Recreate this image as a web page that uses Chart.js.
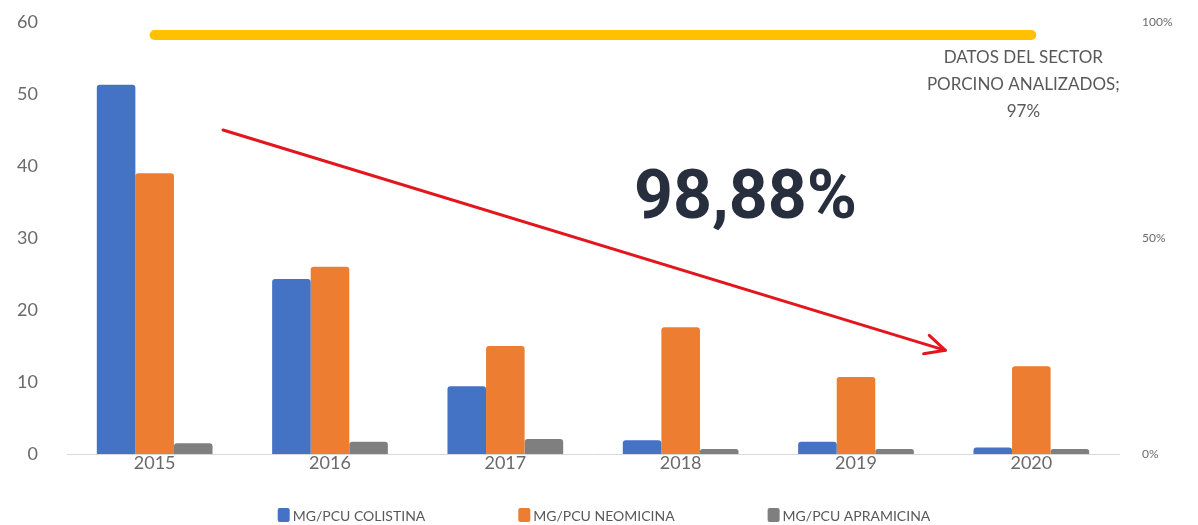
<!DOCTYPE html>
<html>
<head>
<meta charset="utf-8">
<title>Consumo de antibióticos - sector porcino</title>
<script src="https://cdn.jsdelivr.net/npm/chart.js@4/dist/chart.umd.min.js"></script>
<style>
  html, body { margin: 0; padding: 0; background: #fff; }
  #wrap { width: 1198px; height: 525px; }
</style>
</head>
<body>
<div id="wrap"><canvas id="chartUso"></canvas></div>
<script>
const years = ['2015', '2016', '2017', '2018', '2019', '2020'];
const colistina = [51.3, 24.3, 9.4, 1.9, 1.7, 0.9];
const neomicina = [39.0, 26.0, 15.0, 17.6, 10.7, 12.2];
const apramicina = [1.5, 1.7, 2.1, 0.7, 0.7, 0.7];
const sectorAnalizado = [0.97, 0.97, 0.97, 0.97, 0.97, 0.97];
const seriesNames = ['MG/PCU COLISTINA', 'MG/PCU NEOMICINA', 'MG/PCU APRAMICINA'];
const sectorLabel = ['DATOS DEL SECTOR', 'PORCINO ANALIZADOS;'];
const reduccion = '98,88%';
const leftTicks = [0, 10, 20, 30, 40, 50, 60];
const rightTicks = [0, 0.5, 1];

const tickColor = '#6a6a6a';
const fontFamily = 'Lato, "Open Sans", sans-serif';

// flecha, porcentaje grande, etiqueta de la línea y leyenda
const anotaciones = {
    id: 'anotaciones',
    afterDatasetsDraw(chart) {
        const { ctx, scales: { x, y } } = chart;
        const step = x.getPixelForValue(1) - x.getPixelForValue(0);
        const px = i => x.getPixelForValue(0) + i * step;

        ctx.save();

        // flecha roja de tendencia
        const x1 = px(0.39), y1 = y.getPixelForValue(45);
        const x2 = px(4.51), y2 = y.getPixelForValue(14.4);
        ctx.strokeStyle = '#e3161e';
        ctx.lineWidth = 3;
        ctx.lineCap = 'round';
        ctx.lineJoin = 'round';
        ctx.beginPath();
        ctx.moveTo(x1, y1);
        ctx.lineTo(x2, y2);
        ctx.stroke();
        const ang = Math.atan2(y2 - y1, x2 - x1);
        const head = 22;
        ctx.beginPath();
        ctx.moveTo(x2 - head * Math.cos(ang - 0.45), y2 - head * Math.sin(ang - 0.45));
        ctx.lineTo(x2, y2);
        ctx.lineTo(x2 - head * Math.cos(ang + 0.45), y2 - head * Math.sin(ang + 0.45));
        ctx.stroke();

        // porcentaje de reducción
        ctx.fillStyle = '#272e3d';
        ctx.font = 'bold 68px Roboto, sans-serif';
        ctx.textAlign = 'center';
        ctx.textBaseline = 'middle';
        ctx.fillText(reduccion, px(3.37), y.getPixelForValue(35.1));

        // etiqueta del último punto de la línea amarilla
        const meta = chart.getDatasetMeta(3);
        const last = meta.data[meta.data.length - 1];
        const value = sectorAnalizado[sectorAnalizado.length - 1];
        const lines = [...sectorLabel, Math.round(value * 100) + '%'];
        ctx.fillStyle = '#595959';
        ctx.font = '17px ' + fontFamily;
        lines.forEach((t, i) => ctx.fillText(t, last.x - 8, last.y + 23 + i * 27));

        // leyenda
        ctx.font = '14px ' + fontFamily;
        ctx.textAlign = 'left';
        const box = 12, gapText = 3, gapItem = 93;
        const widths = seriesNames.map(n => box + gapText + ctx.measureText(n).width);
        const total = widths.reduce((a, b) => a + b, 0) + gapItem * (widths.length - 1);
        let lx = (chart.width - total) / 2 + 5;
        const ly = chart.height - 10;
        seriesNames.forEach((n, i) => {
            ctx.fillStyle = chart.data.datasets[i].backgroundColor;
            ctx.beginPath();
            ctx.roundRect(lx, ly - 7, box, 14, 2);
            ctx.fill();
            ctx.fillStyle = '#595959';
            ctx.fillText(n, lx + box + gapText, ly + 1);
            lx += widths[i] + gapItem;
        });

        ctx.restore();
    }
};

const config = {
    type: 'bar',
    data: {
        labels: years,
        datasets: [
            { label: seriesNames[0], data: colistina, backgroundColor: '#4472c4', yAxisID: 'y' },
            { label: seriesNames[1], data: neomicina, backgroundColor: '#ed7d31', yAxisID: 'y' },
            { label: seriesNames[2], data: apramicina, backgroundColor: '#7f7f7f', yAxisID: 'y' },
            {
                type: 'line',
                label: sectorLabel.join(' '),
                data: sectorAnalizado,
                yAxisID: 'y1',
                borderColor: '#ffc000',
                borderWidth: 10,
                borderCapStyle: 'round',
                pointRadius: 0,
                order: -1
            }
        ]
    },
    options: {
        responsive: true,
        maintainAspectRatio: false,
        animation: false,
        datasets: {
            bar: {
                barPercentage: 1,
                categoryPercentage: 0.66,
                borderRadius: { topLeft: 3, topRight: 3 },
                borderSkipped: 'bottom'
            }
        },
        layout: {
            padding: { top: 22, bottom: 41, left: 0, right: 0 }
        },
        plugins: {
            legend: { display: false },
            tooltip: { enabled: false },
            title: { display: false }
        },
        scales: {
            x: {
                grid: { display: false, drawTicks: false },
                border: { display: true, color: '#d9d9d9', width: 1 },
                ticks: { color: tickColor, font: { family: fontFamily, size: 18 }, padding: -2 },
                afterFit: s => { s.height = 30; }
            },
            y: {
                position: 'left',
                min: leftTicks[0],
                max: leftTicks[leftTicks.length - 1],
                afterBuildTicks: s => { s.ticks = leftTicks.map(v => ({ value: v })); },
                // tick marks hidden; tickLength only pushes the labels away from the plot
                grid: { display: false, drawTicks: true, tickLength: 27 },
                border: { display: false },
                ticks: { color: tickColor, font: { family: fontFamily, size: 18 }, padding: 2 },
                afterFit: s => { s.width = 67; }
            },
            y1: {
                position: 'right',
                min: rightTicks[0],
                max: rightTicks[rightTicks.length - 1],
                afterBuildTicks: s => { s.ticks = rightTicks.map(v => ({ value: v })); },
                grid: { display: false, drawTicks: true, tickLength: 21 },
                border: { display: false },
                ticks: {
                    color: tickColor,
                    font: { family: fontFamily, size: 12 },
                    padding: 2,
                    callback: v => Math.round(v * 100) + '%'
                },
                afterFit: s => { s.width = 79; }
            }
        }
    },
    plugins: [anotaciones]
};

let chartUso = document.getElementById('chartUso');
let oChartUso = new Chart(chartUso, config);
</script>
</body>
</html>
